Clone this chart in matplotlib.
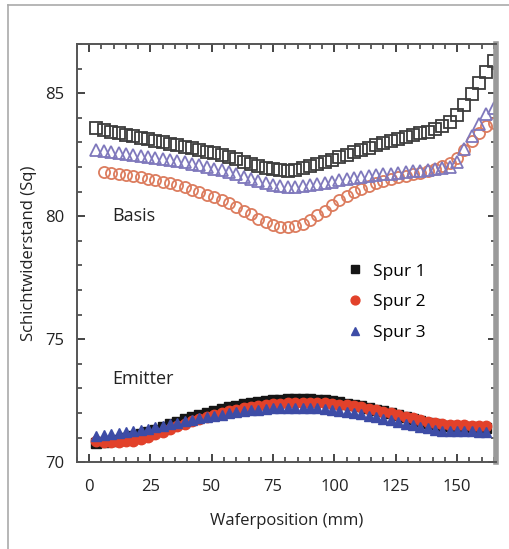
import matplotlib.pyplot as plt
from matplotlib.lines import Line2D
from matplotlib.ticker import MultipleLocator

plt.rcParams['font.family'] = ['Open Sans', 'DejaVu Sans']

# Messpositionen (mm)
x_basis = [3, 6, 9, 12, 15, 18, 21, 24, 27, 30, 33, 36, 39, 42, 45, 48, 51, 54, 57, 60,
           63, 66, 69, 72, 75, 78, 81, 84, 87, 90, 93, 96, 99, 102, 105, 108, 111, 114, 117, 120,
           123, 126, 129, 132, 135, 138, 141, 144, 147, 150, 153, 156, 159, 162, 165]
x_basis2 = x_basis[1:]
x_emit = x_basis[:54]

# Basis
basis_spur1 = [83.60, 83.52, 83.44, 83.37, 83.30, 83.24, 83.18, 83.12, 83.06, 83.00,
               82.95, 82.89, 82.83, 82.76, 82.69, 82.62, 82.55, 82.47, 82.39, 82.31,
               82.22, 82.13, 82.04, 81.96, 81.90, 81.86, 81.85, 81.88, 81.94, 82.02,
               82.11, 82.20, 82.30, 82.40, 82.50, 82.60, 82.70, 82.79, 82.88, 82.97,
               83.05, 83.13, 83.21, 83.28, 83.36, 83.44, 83.53, 83.65, 83.82, 84.10,
               84.50, 84.95, 85.40, 85.85, 86.30]
basis_spur2 = [81.80, 81.76, 81.72, 81.68, 81.63, 81.58, 81.52, 81.46, 81.40,
               81.33, 81.25, 81.17, 81.08, 80.98, 80.88, 80.77, 80.65, 80.52, 80.38,
               80.23, 80.07, 79.90, 79.75, 79.63, 79.56, 79.55, 79.60, 79.70, 79.85,
               80.03, 80.23, 80.44, 80.64, 80.82, 80.98, 81.12, 81.24, 81.34, 81.43,
               81.51, 81.58, 81.64, 81.70, 81.77, 81.84, 81.92, 82.02, 82.15, 82.35,
               82.70, 83.05, 83.40, 83.65, 83.80]
basis_spur3 = [82.70, 82.66, 82.62, 82.58, 82.54, 82.50, 82.46, 82.42, 82.38, 82.34,
               82.29, 82.24, 82.19, 82.13, 82.07, 82.00, 81.93, 81.86, 81.78, 81.70,
               81.61, 81.52, 81.43, 81.35, 81.28, 81.23, 81.20, 81.20, 81.22, 81.26,
               81.30, 81.35, 81.40, 81.45, 81.50, 81.54, 81.58, 81.62, 81.66, 81.70,
               81.73, 81.76, 81.79, 81.82, 81.85, 81.88, 81.91, 81.95, 82.00, 82.20,
               82.75, 83.25, 83.75, 84.15, 84.40]

# Emitter
emit_spur1 = [70.80, 70.83, 70.87, 70.92, 70.98, 71.05, 71.13, 71.22, 71.32, 71.43,
              71.54, 71.64, 71.74, 71.83, 71.92, 72.00, 72.08, 72.16, 72.23, 72.30,
              72.36, 72.41, 72.45, 72.49, 72.52, 72.54, 72.56, 72.57, 72.57, 72.56,
              72.54, 72.51, 72.47, 72.43, 72.38, 72.33, 72.27, 72.21, 72.14, 72.07,
              71.99, 71.91, 71.83, 71.75, 71.67, 71.60, 71.54, 71.49, 71.46, 71.44,
              71.43, 71.42, 71.41, 71.40]
emit_spur2 = [70.85, 70.84, 70.84, 70.84, 70.85, 70.88, 70.94, 71.03, 71.13, 71.24,
              71.35, 71.46, 71.56, 71.66, 71.75, 71.84, 71.92, 72.00, 72.07, 72.13,
              72.19, 72.24, 72.28, 72.32, 72.35, 72.37, 72.39, 72.40, 72.41, 72.41,
              72.40, 72.39, 72.37, 72.34, 72.31, 72.27, 72.23, 72.18, 72.12, 72.06,
              71.99, 71.92, 71.85, 71.78, 71.71, 71.65, 71.60, 71.56, 71.53, 71.51,
              71.50, 71.49, 71.48, 71.47]
emit_spur3 = [71.05, 71.10, 71.14, 71.18, 71.22, 71.27, 71.32, 71.37, 71.43, 71.49,
              71.55, 71.61, 71.67, 71.73, 71.78, 71.84, 71.89, 71.94, 71.99, 72.03,
              72.07, 72.11, 72.14, 72.17, 72.19, 72.21, 72.22, 72.22, 72.22, 72.21,
              72.19, 72.16, 72.13, 72.09, 72.05, 72.00, 71.95, 71.89, 71.83, 71.76,
              71.70, 71.63, 71.56, 71.50, 71.44, 71.38, 71.33, 71.29, 71.27, 71.26,
              71.25, 71.25, 71.24, 71.24]

labels = ['Spur 1', 'Spur 2', 'Spur 3']

fig = plt.figure(figsize=(5.09, 5.49), dpi=100)
ax = fig.add_axes([0.151, 0.158, 0.824, 0.762])

# Basis: offene Symbole
ax.plot(x_basis, basis_spur1, ls='none', marker='s', ms=8, mfc='none', mec='#3c3c3c', mew=1.3)
ax.plot(x_basis2, basis_spur2, ls='none', marker='o', ms=8, mfc='none', mec='#dc7c5e', mew=1.3)
ax.plot(x_basis, basis_spur3, ls='none', marker='^', ms=8, mfc='none', mec='#7f78bc', mew=1.3)

# Emitter: gefuellte Symbole
ax.plot(x_emit, emit_spur1, ls='none', marker='s', ms=7.5, color='#151515', label=labels[0])
ax.plot(x_emit, emit_spur2, ls='none', marker='o', ms=7.5, color='#e2412a', label=labels[1])
ax.plot(x_emit, emit_spur3, ls='none', marker='^', ms=7.5, color='#3d4ca6', label=labels[2])

ax.set_xlim(-5, 166)
ax.set_ylim(70, 87)
ax.xaxis.set_major_locator(MultipleLocator(25))
ax.xaxis.set_minor_locator(MultipleLocator(5))
ax.yaxis.set_major_locator(MultipleLocator(5))
ax.yaxis.set_minor_locator(MultipleLocator(1))
ax.tick_params(which='both', direction='in', top=True, right=True, colors='#444444',
               labelcolor='#222222', labelsize=12)
ax.tick_params(which='major', length=6, width=1.4, pad=9)
ax.tick_params(axis='x', which='major', pad=12)
ax.tick_params(which='minor', length=3.5, width=1.2)

for s in ['left', 'top', 'bottom']:
    ax.spines[s].set_color('#555555')
    ax.spines[s].set_linewidth(1.4)
ax.spines['right'].set_color('#9a9a9a')
ax.spines['right'].set_linewidth(4)

ax.set_xlabel('Waferposition (mm)', fontsize=12, color='#222222', labelpad=13)
ax.set_ylabel('Schichtwiderstand (Sq)', fontsize=12, color='#222222', labelpad=6)

ax.text(9.5, 80.0, 'Basis', fontsize=13, color='#222222', va='center')
ax.text(9.5, 73.4, 'Emitter', fontsize=13, color='#222222', va='center')

leg = ax.legend(loc='upper left', bbox_to_anchor=(0.635, 0.492), frameon=False,
                fontsize=12.5, handlelength=0.6, handletextpad=0.7, labelspacing=0.85,
                markerscale=0.85, borderaxespad=0)

# grauer Rahmen oben und links
fig.add_artist(Line2D([0.0157, 1.0], [0.991, 0.991], color='#aaaaaa', lw=1.2))
fig.add_artist(Line2D([0.0157, 0.0157], [0.0, 0.991], color='#aaaaaa', lw=1.2))

fig.savefig('out.png', dpi=100)
